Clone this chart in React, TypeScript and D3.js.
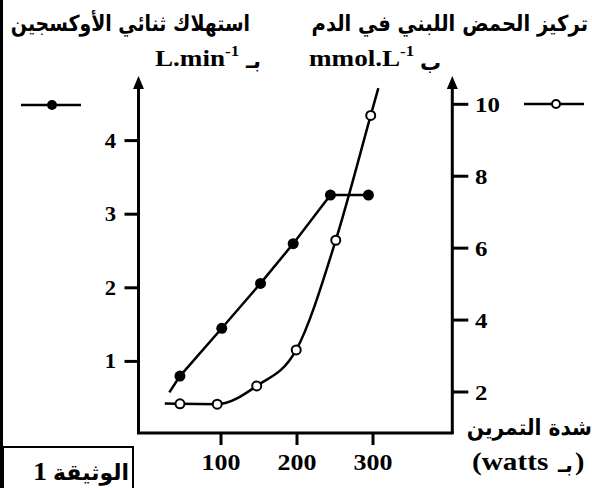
import React from "react";
import * as d3 from "d3";

// Data
const xTicks = [100, 200, 300];
const o2Ticks = [1, 2, 3, 4];
const lactateTicks = [2, 4, 6, 8, 10];

// O2 consumption (L/min) – filled markers
const o2Watts = [46, 101, 152, 195, 244, 294];
const o2Values = [0.8, 1.45, 2.06, 2.6, 3.26, 3.26];
const o2LineStartWatts = [32];
const o2LineStartValues = [0.58];

// Blood lactate (mmol/L) – open markers
const lactateWatts = [46, 95, 147, 199, 251, 297];
const lactateValues = [1.67, 1.66, 2.17, 3.17, 6.22, 9.69];
const lactateLineStartWatts = [26];
const lactateLineStartValues = [1.68];
const lactateLineEndWatts = [307];
const lactateLineEndValues = [10.45];

const W = 592;
const H = 488;

const ARABIC = "DejaVu Sans, sans-serif";
const SERIF = "Liberation Serif, DejaVu Serif, serif";
const SX = 1.13;

type TProps = {
  x: number;
  y: number;
  size: number;
  anchor?: "start" | "middle" | "end";
  sx?: number;
  arabic?: boolean;
  children: React.ReactNode;
};

function T({ x, y, size, anchor = "start", sx, arabic, children }: TProps) {
  const s = sx ?? (arabic ? 1 : SX);
  return (
    <text
      transform={`translate(${x},${y}) scale(${s},1)`}
      textAnchor={anchor}
      style={{ fontFamily: arabic ? ARABIC : SERIF, fontWeight: 700, fontSize: size }}
    >
      {children}
    </text>
  );
}

export default function App() {
  const x = d3.scaleLinear().domain([0, 300]).range([145, 373]);
  const yL = d3.scaleLinear().domain([0, 4]).range([435, 140.6]);
  const yR = d3.scaleLinear().domain([2, 10]).range([392, 104.3]);

  const axisLeftX = 138.5;
  const axisRightX = 452.3;
  const axisBottomY = 433;
  const arrowTipY = 76;

  const o2Line = d3
    .line<[number, number]>()
    .x((d) => x(d[0]))
    .y((d) => yL(d[1]))
    .curve(d3.curveLinear);

  const o2Pts: [number, number][] = [
    ...o2LineStartWatts.map((w, i) => [w, o2LineStartValues[i]] as [number, number]),
    ...o2Watts.map((w, i) => [w, o2Values[i]] as [number, number]),
  ];

  const lacLine = d3
    .line<[number, number]>()
    .x((d) => x(d[0]))
    .y((d) => yR(d[1]))
    .curve(d3.curveMonotoneX);

  const lacPts: [number, number][] = [
    ...lactateLineStartWatts.map((w, i) => [w, lactateLineStartValues[i]] as [number, number]),
    ...lactateWatts.map((w, i) => [w, lactateValues[i]] as [number, number]),
    ...lactateLineEndWatts.map((w, i) => [w, lactateLineEndValues[i]] as [number, number]),
  ];

  const arrow = (cx: number) =>
    `M${cx},${arrowTipY} L${cx - 5.5},${arrowTipY + 13} L${cx + 5.5},${arrowTipY + 13} Z`;

  return (
    <svg
      width={W}
      height={H}
      style={{ position: "absolute", left: 0, top: 0, background: "#fff" }}
    >
      <rect x={0} y={0} width={W} height={H} fill="#fff" />
      {/* left border */}
      <line x1={1.5} y1={0} x2={1.5} y2={H} stroke="#000" strokeWidth={3} />

      {/* titles */}
      <T x={588} y={31} size={22} anchor="end" arabic sx={0.89}>
        تركيز الحمض اللبني في الدم
      </T>
      <T x={250} y={31} size={22} anchor="end" arabic sx={0.86}>
        استهلاك ثنائي الأوكسجين
      </T>
      <T x={155} y={66} size={24}>
        L.min<tspan dy={-10} style={{ fontSize: 15 }}>-1</tspan>
      </T>
      <T x={261} y={68} size={21} anchor="end" arabic>
        بـ
      </T>
      <T x={309} y={66} size={24}>
        mmol.L<tspan dy={-10} style={{ fontSize: 15 }}>-1</tspan>
      </T>
      <T x={441} y={70} size={21} anchor="end" arabic>
        ب
      </T>

      {/* axes */}
      <line x1={axisLeftX} y1={arrowTipY + 8} x2={axisLeftX} y2={axisBottomY} stroke="#000" strokeWidth={3} />
      <line x1={axisRightX} y1={arrowTipY + 8} x2={axisRightX} y2={axisBottomY} stroke="#000" strokeWidth={3} />
      <line x1={axisLeftX - 1.5} y1={axisBottomY} x2={axisRightX + 1.5} y2={axisBottomY} stroke="#000" strokeWidth={3} />
      <path d={arrow(axisLeftX)} fill="#000" />
      <path d={arrow(axisRightX)} fill="#000" />

      {/* left ticks */}
      {o2Ticks.map((t) => (
        <g key={"l" + t}>
          <line x1={axisLeftX - 14} x2={axisLeftX} y1={yL(t)} y2={yL(t)} stroke="#000" strokeWidth={3} />
          <T x={116} y={yL(t) + 7} size={20} anchor="end">
            {t}
          </T>
        </g>
      ))}

      {/* right ticks */}
      {lactateTicks.map((t) => (
        <g key={"r" + t}>
          <line x1={axisRightX} x2={axisRightX + 16} y1={yR(t)} y2={yR(t)} stroke="#000" strokeWidth={3} />
          <T x={475} y={yR(t) + 8} size={22}>
            {t}
          </T>
        </g>
      ))}

      {/* bottom ticks */}
      {xTicks.map((t) => (
        <g key={"b" + t}>
          <line x1={x(t)} x2={x(t)} y1={axisBottomY} y2={axisBottomY + 12} stroke="#000" strokeWidth={3} />
          <T x={x(t)} y={470} size={23} anchor="middle">
            {t}
          </T>
        </g>
      ))}

      {/* x axis label */}
      <T x={592} y={435} size={22} anchor="end" arabic sx={0.92}>
        شدة التمرين
      </T>
      <T x={472} y={470} size={25} sx={1.17}>
        (watts
      </T>
      <T x={573} y={472} size={21} anchor="end" arabic>
        بـ
      </T>
      <T x={575} y={470} size={25}>
        )
      </T>

      {/* legends */}
      <line x1={21} x2={81} y1={105} y2={105} stroke="#000" strokeWidth={2.5} />
      <circle cx={52} cy={105} r={5} fill="#000" />
      <line x1={524} x2={584} y1={104} y2={104} stroke="#000" strokeWidth={2.5} />
      <circle cx={556} cy={104} r={4} fill="#fff" stroke="#000" strokeWidth={2} />

      {/* series */}
      <path d={o2Line(o2Pts) || ""} fill="none" stroke="#000" strokeWidth={2.5} />
      {o2Watts.map((w, i) => (
        <circle key={"o" + i} cx={x(w)} cy={yL(o2Values[i])} r={5.5} fill="#000" />
      ))}
      <path d={lacLine(lacPts) || ""} fill="none" stroke="#000" strokeWidth={2.5} />
      {lactateWatts.map((w, i) => (
        <circle key={"c" + i} cx={x(w)} cy={yR(lactateValues[i])} r={4.5} fill="#fff" stroke="#000" strokeWidth={2} />
      ))}

      {/* document box */}
      <rect x={3} y={447} width={130} height={50} fill="none" stroke="#000" strokeWidth={2} />
      <T x={33} y={480} size={25}>
        1
      </T>
      <T x={129} y={480} size={22} anchor="end" arabic>
        الوثيقة
      </T>
    </svg>
  );
}
